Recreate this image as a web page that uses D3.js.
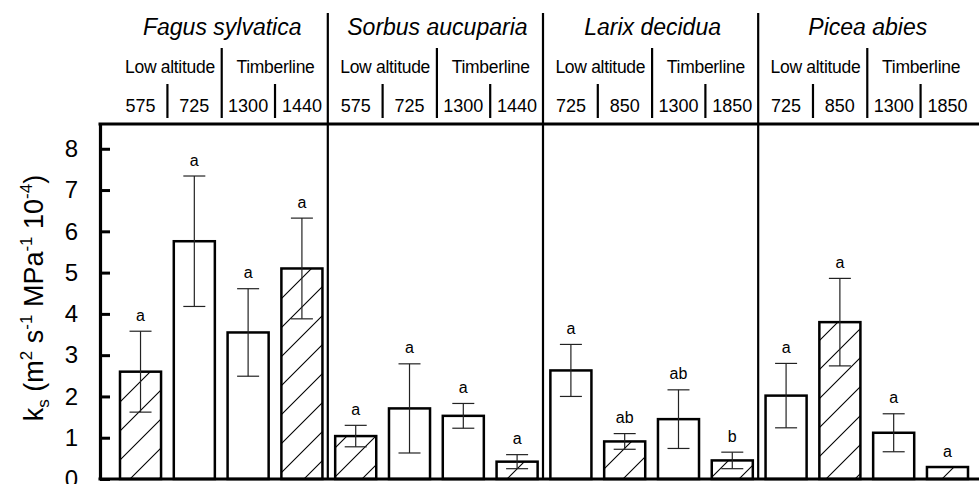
<!DOCTYPE html>
<html>
<head>
<meta charset="utf-8">
<script src="https://cdn.jsdelivr.net/npm/d3@7"></script>
<style>
  body { margin: 0; background: #fff; }
  text { font-family: Arial, "Liberation Sans", sans-serif; fill: #000; }
</style>
</head>
<body>
<div id="chart"></div>
<script>
// values
const species = ["Fagus sylvatica", "Sorbus aucuparia", "Larix decidua", "Picea abies"];
const sites = ["Low altitude", "Timberline"];
const altitudes = ["575", "725", "1300", "1440", "575", "725", "1300", "1440",
                   "725", "850", "1300", "1850", "725", "850", "1300", "1850"];
const means  = [2.60, 5.76, 3.55, 5.10, 1.04, 1.71, 1.53, 0.42,
                2.63, 0.91, 1.45, 0.45, 2.02, 3.80, 1.12, 0.29];
const errors = [0.98, 1.58, 1.06, 1.22, 0.26, 1.08, 0.30, 0.17,
                0.63, 0.19, 0.71, 0.20, 0.78, 1.06, 0.46, 0];
const hatched = [1, 0, 0, 1, 1, 0, 0, 1, 0, 1, 0, 1, 0, 1, 0, 1];
const letters = ["a", "a", "a", "a", "a", "a", "a", "a",
                 "a", "ab", "ab", "b", "a", "a", "a", "a"];
const yTicks = [0, 1, 2, 3, 4, 5, 6, 7, 8];

const width = 979, height = 484;
const plotLeft = 100, plotTop = 124, plotBottom = 479;

const svg = d3.select("#chart").append("svg")
    .attr("width", width)
    .attr("height", height);

// diagonal hatching
svg.append("defs").append("pattern")
    .attr("id", "hatch")
    .attr("patternUnits", "userSpaceOnUse")
    .attr("width", 29).attr("height", 29)
    .append("path")
    .attr("d", "M-8,8 L8,-8 M0,29 L29,0 M21,37 L37,21")
    .attr("stroke", "#000")
    .attr("stroke-width", 1.1);

const idx = d3.range(means.length);

const x = d3.scaleBand()
    .domain(idx)
    .range([120, 968])
    .paddingInner(0.237)
    .paddingOuter(0);
const bw = x.bandwidth();

const y = d3.scaleLinear()
    .domain([0, 8.6])
    .range([plotBottom, plotTop]);

// gap between bar i and bar i+1
const gapX = i => (x(i) + bw + x(i + 1)) / 2;

// bars
const bars = svg.append("g");
bars.selectAll("rect.bar")
    .data(idx)
    .enter().append("rect")
    .attr("class", "bar")
    .attr("x", i => x(i))
    .attr("y", i => y(means[i]))
    .attr("width", bw)
    .attr("height", i => y(0) - y(means[i]))
    .attr("fill", i => hatched[i] ? "url(#hatch)" : "#fff")
    .attr("stroke", "#000")
    .attr("stroke-width", 2.5);

// error bars
const errG = svg.append("g")
    .attr("stroke", "#222")
    .attr("stroke-width", 1.2);
idx.filter(i => errors[i] > 0).forEach(i => {
  const cx = x(i) + bw / 2;
  const hi = y(means[i] + errors[i]), lo = y(means[i] - errors[i]);
  errG.append("line").attr("x1", cx).attr("x2", cx).attr("y1", hi).attr("y2", lo);
  errG.append("line").attr("x1", cx - 11).attr("x2", cx + 11).attr("y1", hi).attr("y2", hi);
  errG.append("line").attr("x1", cx - 11).attr("x2", cx + 11).attr("y1", lo).attr("y2", lo);
});

// significance letters
svg.append("g").selectAll("text")
    .data(idx)
    .enter().append("text")
    .attr("x", i => x(i) + bw / 2)
    .attr("y", i => y(means[i] + errors[i]) - 10.5)
    .attr("text-anchor", "middle")
    .style("font-size", "16px")
    .text(i => letters[i]);

// header and separators
const lines = svg.append("g")
    .attr("stroke", "#000")
    .attr("stroke-width", 2.2);

species.forEach((sp, g) => {
  const b0 = g * 4;
  if (g > 0) {
    const sx = gapX(b0 - 1) - 1;
    lines.append("line").attr("x1", sx).attr("x2", sx).attr("y1", 13).attr("y2", plotBottom);
  }
  const mid = gapX(b0 + 1) + 0.5;
  lines.append("line").attr("x1", mid).attr("x2", mid).attr("y1", 48).attr("y2", 118);
  [b0, b0 + 2].forEach(b => {
    const bx = gapX(b);
    lines.append("line").attr("x1", bx).attr("x2", bx).attr("y1", 84).attr("y2", 118);
  });

  svg.append("text")
      .attr("x", (x(b0) + x(b0 + 3) + bw) / 2 + 1)
      .attr("y", 35)
      .attr("text-anchor", "middle")
      .style("font-size", "23px")
      .style("font-style", "italic")
      .text(sp);

  sites.forEach((s, k) => {
    svg.append("text")
        .attr("x", (x(b0 + 2 * k) + x(b0 + 2 * k + 1) + bw) / 2 + (k === 0 ? 2.5 : 0.5))
        .attr("y", 73)
        .attr("text-anchor", "middle")
        .style("font-size", "17.5px")
        .style("letter-spacing", "-0.3px")
        .text(s);
  });
});

svg.append("g").selectAll("text")
    .data(idx)
    .enter().append("text")
    .attr("x", i => x(i) + bw / 2)
    .attr("y", 112)
    .attr("text-anchor", "middle")
    .style("font-size", "18px")
    .text(i => altitudes[i]);

// frame lines
svg.append("line")
    .attr("x1", plotLeft - 1.5).attr("x2", width)
    .attr("y1", plotTop).attr("y2", plotTop)
    .attr("stroke", "#000").attr("stroke-width", 3.2);
svg.append("line")
    .attr("x1", plotLeft - 1.5).attr("x2", width)
    .attr("y1", plotBottom).attr("y2", plotBottom)
    .attr("stroke", "#000").attr("stroke-width", 3.2);

// y axis
const yAxis = d3.axisLeft(y)
    .tickValues(yTicks)
    .tickFormat(d3.format("d"))
    .tickSizeInner(-10)
    .tickSizeOuter(0)
    .tickPadding(22);

const ax = svg.append("g")
    .attr("transform", `translate(${plotLeft},0)`)
    .call(yAxis);
ax.select(".domain").attr("stroke", "#000").attr("stroke-width", 3.2);
ax.selectAll(".tick line").attr("stroke", "#000").attr("stroke-width", 3);
ax.selectAll(".tick text")
    .attr("fill", "#000")
    .style("font-size", "24px")
    .style("font-family", "Arial, 'Liberation Sans', sans-serif");

// y label with sub/superscripts
const lab = svg.append("text")
    .attr("transform", "translate(43,298) rotate(-90)")
    .attr("text-anchor", "middle")
    .style("font-size", "27px");
const parts = [
  ["k", 0], ["s", 1], [" (m", 0], ["2", -1], [" s", 0], ["-1", -1],
  [" MPa", 0], ["-1", -1], [" 10", 0], ["-4", -1], [")", 0]
];
let shift = 0;
parts.forEach(([t, p]) => {
  const target = p === 1 ? 6 : p === -1 ? -11 : 0;
  lab.append("tspan")
      .attr("dy", target - shift)
      .style("font-size", p === 0 ? "27px" : "17px")
      .text(t);
  shift = target;
});
</script>
</body>
</html>
